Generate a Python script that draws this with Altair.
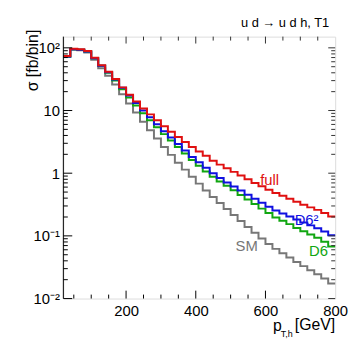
import altair as alt
import pandas as pd

# ---- data ----
bin_edges = list(range(20, 820, 20))  # 20 ... 800 GeV, 39 bins of 20 GeV

full = [74.0, 96.4, 95.0, 88.7, 69.5, 52.8, 41.4, 31.8, 23.4, 17.9, 13.9, 10.8, 8.68, 6.98,
        5.61, 4.60, 3.77, 3.14, 2.62, 2.22, 1.90, 1.58, 1.37, 1.20, 1.05, 0.92, 0.80, 0.70,
        0.62, 0.545, 0.485, 0.435, 0.39, 0.35, 0.315, 0.285, 0.26, 0.232, 0.203]
d6sq = [72.7, 94.7, 93.5, 87.1, 68.2, 51.8, 40.7, 31.2, 23.0, 17.3, 13.2, 10.0, 7.79, 6.04,
        4.68, 3.70, 2.93, 2.30, 1.82, 1.49, 1.22, 1.00, 0.84, 0.71, 0.615, 0.528, 0.452, 0.39,
        0.337, 0.292, 0.254, 0.228, 0.203, 0.183, 0.163, 0.147, 0.132, 0.117, 0.102]
d6 = [72.7, 94.7, 93.5, 87.1, 68.2, 51.8, 39.9, 30.1, 21.8, 16.1, 12.0, 9.01, 6.98, 5.42,
      4.20, 3.32, 2.62, 2.07, 1.63, 1.31, 1.06, 0.88, 0.74, 0.63, 0.535, 0.450, 0.380, 0.322,
      0.272, 0.231, 0.197, 0.174, 0.154, 0.134, 0.119, 0.105, 0.093, 0.0806, 0.0675]
sm = [71.3, 92.9, 91.5, 84.0, 64.6, 47.4, 35.8, 26.0, 18.2, 12.9, 9.33, 6.61, 4.85, 3.57,
      2.62, 1.96, 1.47, 1.14, 0.880, 0.682, 0.530, 0.418, 0.335, 0.268, 0.216, 0.173, 0.139, 0.112,
      0.0905, 0.0740, 0.0620, 0.0530, 0.0452, 0.0384, 0.0329, 0.0284, 0.0245, 0.0209, 0.0174]

series_names = ["SM", "D6", "D6\u00b2", "full"]
series_values = [sm, d6, d6sq, full]
series_colors = ["#777777", "#11a611", "#1010e0", "#e01010"]

label_text = ["SM", "D6", "D6\u00b2", "full"]
label_x = [546, 752, 718, 612]
label_y = [0.070, 0.058, 0.18, 0.79]

x_major = [200, 400, 600]
x_minor = [50, 100, 150, 250, 300, 350, 450, 500, 550, 650, 700, 750]
y_major = [0.01, 0.1, 1, 10, 100]
y_minor = [m * 10.0 ** k for k in (-2, -1, 0, 1) for m in range(2, 10)]

W, H = 275, 265
FONT = "Liberation Sans"

xs = alt.Scale(domain=[20, 800], nice=False, zero=False)
ys = alt.Scale(type="log", domain=[0.01, 151], nice=False)

# ---- histogram lines (step-after through bin edges) ----
layers = []
for name, vals, col in zip(series_names, series_values, series_colors):
    rows = [{"x": e, "y": v} for e, v in zip(bin_edges[:-1], vals)]
    rows.append({"x": bin_edges[-1], "y": vals[-1]})
    df = pd.DataFrame(rows)
    layers.append(
        alt.Chart(df).mark_line(interpolate="step-after", color=col, strokeWidth=2)
        .encode(x=alt.X("x:Q", scale=xs), y=alt.Y("y:Q", scale=ys))
    )

# ---- axes (labels only; ticks drawn inward below) ----
axis_layer = alt.Chart(pd.DataFrame({"x": [20], "y": [1]})).mark_point(opacity=0).encode(
    x=alt.X("x:Q", scale=xs, axis=alt.Axis(values=[200, 400, 600, 800], tickSize=0, domain=False,
            grid=False, title=None, labelFontSize=15, labelFont=FONT, labelColor="#000",
            labelPadding=5, labelFlush=False)),
    y=alt.Y("y:Q", scale=ys, axis=alt.Axis(values=y_major, tickSize=0, domain=False, grid=False,
            title=None, labelFontSize=15, labelFont=FONT, labelColor="#000", labelPadding=4,
            labelExpr="datum.value > 50 ? '10\u00b2' : datum.value > 5 ? '10' : datum.value > 0.5 ? '1' : datum.value > 0.05 ? '10\u207b\u00b9' : '10\u207b\u00b2'")),
)

def xticks(vals, y0, y1, color):
    return alt.Chart(pd.DataFrame({"x": vals})).mark_rule(color=color, strokeWidth=1).encode(
        x=alt.X("x:Q", scale=xs), y=alt.value(y0), y2=alt.value(y1))

def yticks(vals, x0, x1, color):
    return alt.Chart(pd.DataFrame({"y": vals})).mark_rule(color=color, strokeWidth=1).encode(
        y=alt.Y("y:Q", scale=ys), x=alt.value(x0), x2=alt.value(x1))

tick_layers = [
    xticks(x_major, H, H - 8, "#000"), xticks(x_minor, H, H - 4, "#000"),
    xticks(x_major, 0, 7, "#333"), xticks(x_minor, 0, 4, "#333"),
    yticks(y_major, 0, 9, "#000"), yticks(y_minor, 0, 4.5, "#000"),
    yticks(y_major, W, W - 7, "#333"), yticks(y_minor, W, W - 4, "#333"),
]

left_line = alt.Chart(pd.DataFrame({"a": [0]})).mark_rule(color="#000", strokeWidth=1).encode(
    x=alt.value(0), y=alt.value(0), y2=alt.value(H))

# ---- in-plot labels ----
lab_df = pd.DataFrame({"t": label_text, "x": label_x, "y": label_y, "c": series_colors})
labels = alt.Chart(lab_df).mark_text(font=FONT, fontSize=15, align="center", baseline="middle").encode(
    x=alt.X("x:Q", scale=xs), y=alt.Y("y:Q", scale=ys), text="t:N",
    color=alt.Color("c:N", scale=None))

# ---- titles ----
def ptext(txt, x, y, size, align="left", angle=0, baseline="alphabetic"):
    kw = dict(font=FONT, fontSize=size, align=align, baseline=baseline, color="#000")
    if angle:
        kw["angle"] = angle
    return alt.Chart(pd.DataFrame({"t": [txt]})).mark_text(**kw).encode(
        text="t:N", x=alt.value(x), y=alt.value(y))

titles = [
    ptext("u d \u2192 u d h, T1", 269, -10, 13, align="right"),
    ptext("\u03c3 [fb/bin]", -31, -7, 16, align="right", angle=270, baseline="middle"),
    ptext("[GeV]", 275, 297, 16, align="right"),
    ptext("T,h", 232, 304, 9, align="right"),
    ptext("p", 221, 298, 16, align="right"),
]

chart = alt.layer(axis_layer, *layers, *tick_layers, left_line, labels, *titles).properties(
    width=W, height=H,
    autosize=alt.AutoSizeParams(type="none"),
    padding={"left": 56, "top": 27, "right": 14, "bottom": 42},
).configure_view(stroke="#808080", strokeWidth=2).configure(background="white")

chart.save("out.html", embed_options={"renderer": "svg", "actions": False})
